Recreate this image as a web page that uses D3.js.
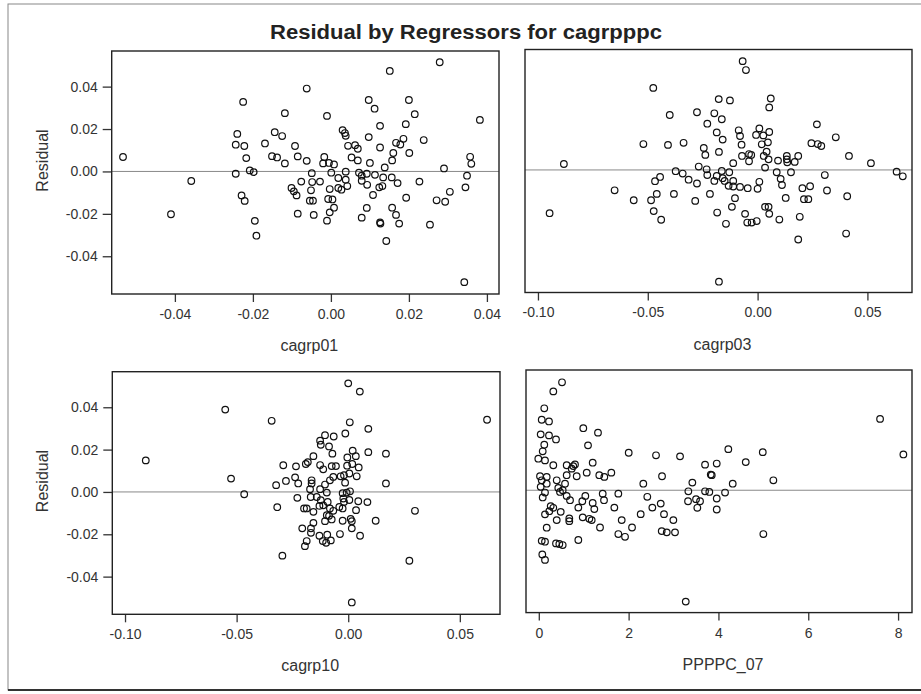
<!DOCTYPE html>
<html><head><meta charset="utf-8">
<script src="https://cdn.jsdelivr.net/npm/d3@7"></script>
<style>body{margin:0;background:#fff}</style></head>
<body>
<svg id="c" width="921" height="694"></svg>
<script>
const chartTitle = "Residual by Regressors for cagrpppc";
const yLabel = "Residual";
const yTicks = [-0.04, -0.02, 0, 0.02, 0.04];
const xTicks01 = [-0.04, -0.02, 0, 0.02, 0.04];
const xTicks03 = [-0.10, -0.05, 0, 0.05];
const xTicks10 = [-0.10, -0.05, 0, 0.05];
const xTicksPP = [0, 2, 4, 6, 8];
const xNames = ["cagrp01", "cagrp03", "cagrp10", "PPPPC_07"];

// [regressor, residual]
const cagrp01 = [
[-0.0533,0.0068],[-0.0225,0.0328],[-0.0118,0.0275],[-0.0240,0.0177],[-0.0144,0.0185],[-0.0125,0.0167],[-0.0244,0.0126],[-0.0222,0.0120],[-0.0169,0.0132],[-0.0217,0.0063],[-0.0151,0.0072],[-0.0138,0.0066],[-0.0118,0.0038],[-0.0244,-0.0011],[-0.0208,0.0005],[-0.0198,-0.0003],[-0.0358,-0.0045],[-0.0229,-0.0113],[-0.0221,-0.0139],[-0.0410,-0.0202],[-0.0195,-0.0233],[-0.0191,-0.0303],
[0.0279,0.0515],[0.0151,0.0474],[-0.0062,0.0391],[0.0097,0.0337],[0.0200,0.0337],[0.0112,0.0296],[0.0215,0.0270],[-0.0010,0.0262],[0.0382,0.0243],[0.0192,0.0223],[0.0126,0.0215],[0.0030,0.0195],[0.0036,0.0181],[0.0038,0.0168],[0.0097,0.0162],[0.0238,0.0148],[0.0186,0.0154],[0.0167,0.0135],[0.0178,0.0127],[0.0044,0.0121],[0.0062,0.0124],[0.0069,0.0107],[0.0126,0.0113],[-0.0092,0.0120],[0.0160,0.0087],[0.0201,0.0087],[-0.0085,0.0071],[-0.0062,0.0050],[-0.0017,0.0068],[0.0053,0.0066],[0.0069,0.0052],[0.0157,0.0052],[0.0357,0.0069],[0.0360,0.0036],[-0.0020,0.0038],[-0.0005,0.0040],[0.0008,0.0033],[0.0100,0.0040],[0.0138,0.0019],[0.0290,0.0014],
[-0.0049,-0.0008],[0.0001,-0.0006],[0.0038,-0.0001],[0.0072,-0.0006],[0.0092,-0.0011],[0.0113,-0.0016],[0.0079,-0.0020],[0.0019,-0.0031],[0.0038,-0.0039],[0.0134,-0.0028],[0.0156,-0.0028],[0.0349,-0.0020],[0.0079,-0.0044],[-0.0076,-0.0048],[-0.0048,-0.0050],[-0.0028,-0.0048],[0.0093,-0.0063],[0.0171,-0.0055],[0.0227,-0.0048],[-0.0101,-0.0078],[-0.0095,-0.0094],[-0.0088,-0.0113],[0.0042,-0.0069],[0.0019,-0.0078],[0.0027,-0.0086],[-0.0003,-0.0083],[-0.0051,-0.0089],[0.0124,-0.0075],[0.0132,-0.0069],[0.0345,-0.0075],[0.0305,-0.0096],[0.0108,-0.0111],[0.0193,-0.0124],[-0.0007,-0.0130],[0.0004,-0.0132],[-0.0054,-0.0138],[-0.0046,-0.0138],[0.0271,-0.0136],[0.0293,-0.0143],[0.0092,-0.0172],[0.0157,-0.0171],[0.0008,-0.0171],[-0.0003,-0.0193],[-0.0085,-0.0199],[-0.0044,-0.0205],[-0.0010,-0.0232],[0.0079,-0.0218],[0.0167,-0.0205],[0.0126,-0.0240],[0.0127,-0.0246],[0.0175,-0.0246],[0.0254,-0.0251],[0.0142,-0.0328],[0.0342,-0.0522]
];

const cagrp03 = [
[-0.0475,0.0387],[-0.0400,0.0259],[-0.0276,0.0272],[-0.0229,0.0218],[-0.0520,0.0122],[-0.0408,0.0118],[-0.0337,0.0128],[-0.0245,0.0104],[-0.0238,0.0071],[-0.0882,0.0028],[-0.0268,0.0016],[-0.0232,0.0003],[-0.0373,-0.0006],[-0.0341,-0.0017],[-0.0229,-0.0024],[-0.0444,-0.0033],[-0.0314,-0.0046],[-0.0467,-0.0053],[-0.0276,-0.0064],[-0.0651,-0.0096],[-0.0459,-0.0113],[-0.0381,-0.0113],[-0.0217,-0.0113],[-0.0564,-0.0143],[-0.0485,-0.0143],[-0.0284,-0.0146],[-0.0947,-0.0204],[-0.0473,-0.0194],[-0.0439,-0.0235],
[-0.0068,0.0513],[-0.0053,0.0471],[-0.0177,0.0334],[-0.0126,0.0328],[0.0060,0.0337],[0.0053,0.0295],[-0.0197,0.0267],[-0.0163,0.0239],[0.0270,0.0215],[-0.0186,0.0177],[-0.0086,0.0187],[-0.0080,0.0160],[0.0008,0.0196],[-0.0007,0.0165],[0.0026,0.0163],[0.0053,0.0179],[-0.0159,0.0143],[0.0356,0.0154],[-0.0073,0.0119],[0.0019,0.0121],[0.0047,0.0130],[0.0245,0.0126],[0.0274,0.0122],[0.0290,0.0113],[-0.0176,0.0085],[0.0041,0.0086],[-0.0071,0.0066],[-0.0039,0.0075],[-0.0029,0.0071],[0.0028,0.0066],[-0.0039,0.0041],[0.0050,0.0050],[0.0093,0.0044],[0.0133,0.0066],[0.0133,0.0050],[0.0135,0.0036],[0.0169,0.0038],[0.0185,0.0066],[0.0416,0.0066],[-0.0111,0.0032],[0.0516,0.0032],[0.0034,0.0011],
[-0.0163,-0.0005],[-0.0129,-0.0011],[0.0087,-0.0011],[0.0152,-0.0011],[0.0633,-0.0008],[0.0661,-0.0030],[-0.0186,-0.0028],[-0.0159,-0.0039],[-0.0197,-0.0052],[-0.0150,-0.0052],[0.0306,-0.0024],[0.0105,-0.0042],[0.0008,-0.0056],[-0.0111,-0.0052],[0.0111,-0.0071],[-0.0132,-0.0075],[-0.0111,-0.0078],[-0.0080,-0.0080],[-0.0045,-0.0086],[0.0000,-0.0089],[0.0204,-0.0086],[0.0239,-0.0077],[0.0316,-0.0097],[0.0408,-0.0124],[-0.0103,-0.0133],[0.0128,-0.0132],[0.0211,-0.0138],[0.0231,-0.0138],[-0.0117,-0.0174],[0.0034,-0.0174],[0.0050,-0.0174],[-0.0184,-0.0201],[-0.0057,-0.0207],[0.0053,-0.0207],[0.0192,-0.0221],[0.0099,-0.0234],[-0.0144,-0.0254],[-0.0047,-0.0248],[-0.0027,-0.0248],[-0.0004,-0.0241],[0.0185,-0.0328],[0.0403,-0.0300],[-0.0176,-0.0527]
];

const cagrp10 = [
[-0.0551,0.0389],[-0.0343,0.0336],[-0.0907,0.0149],[-0.0291,0.0126],[-0.0525,0.0063],[-0.0279,0.0052],[-0.0323,0.0032],[-0.0466,-0.0011],[-0.0318,-0.0072],[-0.0295,-0.0301],
[0.0000,0.0513],[0.0052,0.0474],[0.0622,0.0341],[0.0007,0.0329],[0.0090,0.0298],[-0.0013,0.0276],[-0.0104,0.0268],[-0.0065,0.0262],[-0.0126,0.0242],[-0.0123,0.0223],[-0.0086,0.0215],[-0.0071,0.0181],[0.0020,0.0195],[0.0090,0.0188],[0.0169,0.0181],[-0.0156,0.0169],[-0.0004,0.0163],[0.0034,0.0169],[-0.0181,0.0141],[-0.0190,0.0132],[-0.0126,0.0127],[-0.0074,0.0122],[-0.0055,0.0122],[-0.0005,0.0124],[0.0018,0.0132],[0.0047,0.0116],[-0.0234,0.0121],[-0.0112,0.0107],[-0.0238,0.0069],[0.0038,0.0074],[-0.0034,0.0074],[-0.0019,0.0079],[-0.0067,0.0071],[0.0005,0.0087],[-0.0224,0.0040],[-0.0164,0.0055],[-0.0164,0.0040],[-0.0104,0.0035],[-0.0082,0.0055],[-0.0014,0.0044],[0.0169,0.0040],[-0.0171,0.0013],[-0.0126,0.0013],
[-0.0096,-0.0003],[-0.0025,-0.0006],[-0.0007,-0.0003],[0.0008,0.0003],[-0.0228,-0.0028],[-0.0168,-0.0024],[-0.0141,-0.0024],[-0.0123,-0.0039],[-0.0022,-0.0031],[0.0005,-0.0038],[0.0045,-0.0044],[0.0086,-0.0048],[-0.0092,-0.0047],[-0.0019,-0.0047],[-0.0198,-0.0078],[-0.0186,-0.0078],[-0.0129,-0.0066],[-0.0112,-0.0063],[-0.0082,-0.0078],[-0.0040,-0.0071],[-0.0025,-0.0078],[0.0035,-0.0086],[0.0299,-0.0089],[-0.0156,-0.0094],[-0.0067,-0.0089],[-0.0096,-0.0110],[-0.0086,-0.0113],[-0.0074,-0.0130],[-0.0025,-0.0136],[0.0011,-0.0127],[0.0016,-0.0138],[0.0123,-0.0136],[-0.0104,-0.0138],[-0.0156,-0.0146],[-0.0206,-0.0172],[-0.0167,-0.0172],[-0.0167,-0.0193],[0.0016,-0.0172],[-0.0037,-0.0199],[-0.0129,-0.0207],[-0.0094,-0.0202],[0.0053,-0.0207],[-0.0114,-0.0232],[-0.0099,-0.0240],[-0.0078,-0.0229],[-0.0186,-0.0232],[-0.0194,-0.0256],[0.0274,-0.0325],[0.0016,-0.0522]
];

const ppppc07 = [
[0.517,0.0510],[0.323,0.0467],[0.122,0.0387],[0.065,0.0333],[0.227,0.0325],[0.042,0.0264],[0.227,0.0259],[0.383,0.0240],[0.991,0.0293],[1.318,0.0272],[0.122,0.0215],[1.096,0.0212],[0.087,0.0184],[-0.011,0.0149],[0.138,0.0141],[2.002,0.0177],[2.610,0.0165],[3.145,0.0160],[0.323,0.0118],[0.621,0.0118],[0.768,0.0114],[0.733,0.0102],[0.806,0.0122],[1.200,0.0130],[3.702,0.0121],[0.027,0.0066],[0.176,0.0063],[0.621,0.0071],[0.844,0.0066],[1.067,0.0083],[1.347,0.0071],[1.459,0.0063],[1.615,0.0083],[2.744,0.0066],[3.829,0.0074],[0.065,0.0047],[0.399,0.0047],[0.176,0.0031],[0.584,0.0031],[2.327,0.0031],[3.419,0.0036],[0.042,0.0016],[0.434,0.0011],
[0.138,-0.0011],[0.472,-0.0008],[0.532,0.0000],[3.330,-0.0005],[3.702,-0.0005],[3.797,-0.0008],[0.087,-0.0034],[0.621,-0.0027],[1.036,-0.0027],[1.423,-0.0016],[1.771,-0.0016],[2.416,-0.0031],[0.695,-0.0047],[0.969,-0.0052],[1.452,-0.0047],[3.323,-0.0052],[3.590,-0.0052],[0.265,-0.0075],[0.323,-0.0083],[0.880,-0.0082],[1.200,-0.0060],[1.236,-0.0089],[1.682,-0.0082],[2.528,-0.0082],[2.715,-0.0063],[3.530,-0.0083],[3.501,-0.0042],[0.138,-0.0114],[0.234,-0.0099],[0.488,-0.0102],[2.269,-0.0113],[2.788,-0.0113],[0.399,-0.0141],[0.679,-0.0133],[0.679,-0.0146],[0.978,-0.0128],[1.125,-0.0135],[1.178,-0.0141],[1.846,-0.0141],[2.996,-0.0141],[0.176,-0.0177],[1.363,-0.0176],[2.076,-0.0176],[2.737,-0.0193],[2.849,-0.0199],[3.033,-0.0199],[1.771,-0.0207],[1.920,-0.0220],[0.880,-0.0235],[0.065,-0.0239],[0.138,-0.0243],[0.383,-0.0251],[0.457,-0.0254],[0.532,-0.0259],[0.078,-0.0303],[0.138,-0.0329],[3.272,-0.0526],
[7.599,0.0337],[8.118,0.0169],[4.220,0.0194],[4.987,0.0180],[3.962,0.0126],[4.608,0.0133],[3.851,0.0071],[4.318,0.0031],[5.223,0.0047],[3.962,-0.0039],[4.147,-0.0011],[3.962,-0.0091],[5.000,-0.0207]
];

// layout
const yDomain = [-0.0578, 0.0568];
const fmt2 = d => d.toFixed(2);
const fmt0 = d => d.toFixed(0);
const panels = [
  {data: cagrp01, ticks: xTicks01, name: xNames[0], fmt: fmt2, dom: [-0.0562, 0.0431], x0: 111.7, x1: 499, y0: 51, y1: 294, left: true},
  {data: cagrp03, ticks: xTicks03, name: xNames[1], fmt: fmt2, dom: [-0.1059, 0.0703], x0: 525, x1: 912, y0: 49.5, y1: 292.5, left: false},
  {data: cagrp10, ticks: xTicks10, name: xNames[2], fmt: fmt2, dom: [-0.1057, 0.0680], x0: 112.3, x1: 500, y0: 371.7, y1: 614.3, left: true},
  {data: ppppc07, ticks: xTicksPP, name: xNames[3], fmt: fmt0, dom: [-0.285, 8.31], x0: 526, x1: 912, y0: 370, y1: 612.6, left: false}
];

const svg = d3.select("#c");
const FONT = "'Liberation Sans', Arial, sans-serif";

// outer scan border
svg.append("rect").attr("x", 8).attr("y", 4).attr("width", 940).attr("height", 686)
  .attr("fill", "none").attr("stroke", "#888").attr("stroke-width", 1);
svg.append("line").attr("x1", 8).attr("x2", 921).attr("y1", 690).attr("y2", 690)
  .attr("stroke", "#333").attr("stroke-width", 2);

svg.append("text").attr("x", 466).attr("y", 39).attr("text-anchor", "middle")
  .attr("font-family", FONT).attr("font-weight", "bold").attr("font-size", 20)
  .attr("textLength", 392).attr("lengthAdjust", "spacingAndGlyphs")
  .attr("fill", "#222").text(chartTitle);

panels.forEach(p => {
  const g = svg.append("g");
  const x = d3.scaleLinear().domain(p.dom).range([p.x0, p.x1]);
  const y = d3.scaleLinear().domain(yDomain).range([p.y1, p.y0]);

  // zero reference line
  g.append("line").attr("x1", p.x0).attr("x2", p.x1).attr("y1", y(0)).attr("y2", y(0))
    .attr("stroke", "#888").attr("stroke-width", 1);

  // x axis
  const ax = g.append("g").attr("transform", `translate(0,${p.y1})`)
    .call(d3.axisBottom(x).tickValues(p.ticks).tickFormat(p.fmt).tickSize(8).tickPadding(7));
  ax.select(".domain").remove();
  ax.selectAll("line").attr("stroke", "#333").attr("stroke-width", 1.3);
  ax.selectAll("text").attr("font-family", FONT).attr("font-size", 14).attr("fill", "#333");

  if (p.left) {
    const ay = g.append("g").attr("transform", `translate(${p.x0},0)`)
      .call(d3.axisLeft(y).tickValues(yTicks).tickFormat(fmt2).tickSize(9).tickPadding(5));
    ay.select(".domain").remove();
    ay.selectAll("line").attr("stroke", "#333").attr("stroke-width", 1.3);
    ay.selectAll("text").attr("font-family", FONT).attr("font-size", 14).attr("fill", "#333");
    g.append("text").attr("transform", `translate(48,${(p.y0 + p.y1) / 2 - 12}) rotate(-90)`)
      .attr("text-anchor", "middle").attr("font-family", FONT).attr("font-size", 16)
      .attr("fill", "#333").text(yLabel);
  }

  g.append("text").attr("x", (p.x0 + p.x1) / 2 + 4).attr("y", p.y1 + 57)
    .attr("text-anchor", "middle").attr("font-family", FONT).attr("font-size", 16)
    .attr("fill", "#333").text(p.name);

  // frame
  g.append("rect").attr("x", p.x0).attr("y", p.y0).attr("width", p.x1 - p.x0).attr("height", p.y1 - p.y0)
    .attr("fill", "none").attr("stroke", "#222").attr("stroke-width", 1.4);

  g.selectAll("circle.pt").data(p.data).join("circle").attr("class", "pt")
    .attr("cx", d => x(d[0])).attr("cy", d => y(d[1])).attr("r", 3.3)
    .attr("fill", "none").attr("stroke", "#111").attr("stroke-width", 1.2);
});
</script>
</body></html>
